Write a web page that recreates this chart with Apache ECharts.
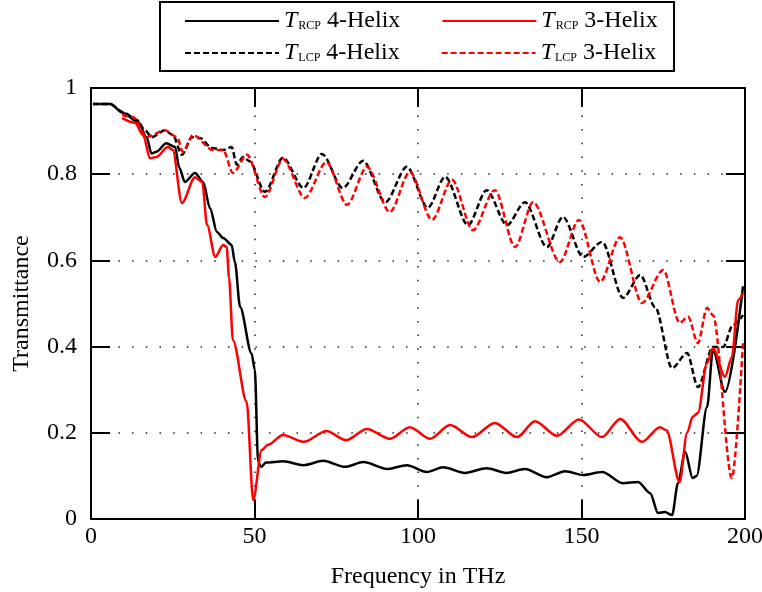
<!DOCTYPE html>
<html>
<head>
<meta charset="utf-8">
<script src="https://cdn.jsdelivr.net/npm/echarts@6/dist/echarts.min.js"></script>
<style>html,body{margin:0;padding:0;background:#fff}#chart{width:762px;height:592px}</style>
</head>
<body>
<div id="chart"></div>
<script>
// [frequency in THz, transmittance]
var rcp4 = [[0.6,0.963],[5.8,0.963],[9.8,0.942],[14.4,0.921],[17,0.886],[18.5,0.848],[20,0.852],[23,0.872],[25.7,0.863],[27,0.815],[28.7,0.782],[31.8,0.803],[34.3,0.782],[36.4,0.721],[38.5,0.666],[40.4,0.652],[43,0.636],[44,0.596],[45.6,0.492],[49.1,0.384],[50.1,0.346],[51.1,0.133],[52,0.121],[53.5,0.131],[58.7,0.134],[65,0.125],[71,0.135],[77.7,0.121],[83.3,0.132],[90.8,0.116],[96.6,0.125],[102.7,0.109],[107.7,0.12],[114.4,0.107],[121,0.118],[127,0.107],[132.7,0.116],[139.4,0.097],[145,0.111],[150.5,0.102],[156.3,0.109],[162.7,0.083],[167.3,0.086],[171,0.06],[173.4,0.014],[175.5,0.016],[177.7,0.009],[179.5,0.083],[181.7,0.156],[184,0.095],[185.2,0.1],[188.4,0.26],[190.2,0.392],[193.9,0.295],[199.4,0.54]];
var lcp4 = [[0.6,0.963],[5.8,0.963],[9.8,0.944],[14,0.926],[16.5,0.902],[18.6,0.886],[22.6,0.902],[25,0.891],[27.8,0.845],[30.9,0.886],[33.3,0.884],[37,0.861],[40.4,0.856],[43,0.863],[44.6,0.822],[46.5,0.84],[48.5,0.83],[53.2,0.759],[58.7,0.838],[65,0.768],[70.6,0.847],[77,0.768],[83.2,0.831],[90,0.735],[96.6,0.817],[103,0.722],[108.3,0.794],[115.3,0.682],[121,0.763],[127.2,0.682],[132.7,0.735],[139.4,0.631],[144.3,0.701],[150.5,0.608],[156.3,0.643],[162.7,0.513],[168,0.566],[172.5,0.492],[177.7,0.35],[182.3,0.385],[185.6,0.306],[190.2,0.399],[193.3,0.399],[196.3,0.45],[199.4,0.473]];
var rcp3 = [[9.5,0.93],[13.5,0.919],[16,0.89],[18,0.837],[20,0.84],[23.5,0.863],[25,0.856],[27.8,0.733],[31.8,0.793],[34,0.782],[35.5,0.682],[38,0.608],[40.4,0.636],[41.5,0.631],[42.2,0.56],[43.4,0.415],[47.6,0.272],[49.6,0.044],[52.2,0.16],[54.1,0.172],[58.7,0.195],[65,0.179],[72,0.204],[78,0.183],[84.4,0.209],[91.4,0.186],[97.5,0.213],[103.7,0.186],[109.8,0.218],[116.5,0.19],[123.5,0.223],[130.3,0.19],[135.8,0.227],[142.5,0.193],[149.2,0.231],[156.3,0.19],[161.8,0.232],[168.5,0.179],[174,0.213],[176,0.206],[180,0.086],[182.3,0.2],[184,0.237],[185.6,0.246],[188.4,0.362],[190.2,0.397],[193.9,0.33],[196,0.376],[197.9,0.508],[199.4,0.524]];
var lcp3 = [[9.5,0.937],[12.8,0.933],[17,0.886],[22.6,0.902],[26.3,0.886],[28.1,0.852],[31.2,0.891],[37.3,0.856],[40.4,0.856],[43.4,0.803],[47.7,0.845],[53.2,0.747],[58.7,0.835],[65.4,0.745],[72,0.828],[78.3,0.729],[84.4,0.817],[91.4,0.712],[97.5,0.805],[104.3,0.694],[110.4,0.787],[116.8,0.67],[123.5,0.763],[129.7,0.631],[135.2,0.735],[143.4,0.596],[149.2,0.694],[155.7,0.55],[161.8,0.654],[168.5,0.501],[175,0.578],[180,0.455],[182.6,0.469],[185.6,0.408],[188.4,0.49],[190.2,0.473],[196,0.095],[199.4,0.41]];

var legendText = {
  rcp4: ['RCP', '4-Helix'],
  rcp3: ['RCP', '3-Helix'],
  lcp4: ['LCP', '4-Helix'],
  lcp3: ['LCP', '3-Helix']
};

var font = 'Liberation Serif';
var chart = echarts.init(document.getElementById('chart'));

function mkLine(name, data, color, dashed) {
  return {
    name: name, type: 'line', data: data, showSymbol: false, symbol: 'none',
    smooth: 0.3, smoothMonotone: 'x',
    lineStyle: { color: color, width: 2.5, type: dashed ? [6, 3] : 'solid' },
    itemStyle: { color: color }
  };
}

function legendBox(names, top) {
  return {
    data: names, left: 179, top: top, itemWidth: 94, itemHeight: 14, itemGap: 41,
    itemStyle: { opacity: 0 },
    formatter: function (n) { return '{t|T}{s|' + legendText[n][0] + '} ' + legendText[n][1]; },
    textStyle: {
      fontFamily: font, fontSize: 24, color: '#000',
      rich: {
        t: { fontFamily: font, fontSize: 24, fontStyle: 'italic', color: '#000' },
        s: { fontFamily: font, fontSize: 12, color: '#000', padding: [10, 0, 0, 1] }
      }
    }
  };
}

var gridDots = { show: true, lineStyle: { color: '#222', width: 1.5, type: [1.5, 12.2] } };
var tick = { inside: true, length: 19, lineStyle: { color: '#000', width: 2 } };
var axLine = { onZero: false, lineStyle: { color: '#000', width: 2 } };
var lab = { fontFamily: font, fontSize: 24, color: '#000' };
var nameFont = { fontFamily: font, fontSize: 24, color: '#000' };

chart.setOption({
  animation: false,
  backgroundColor: '#fff',
  grid: { left: 91, right: 17, top: 88, bottom: 73, outerBoundsMode: 'none', containLabel: false },
  legend: [legendBox(['rcp4', 'rcp3'], 4), legendBox(['lcp4', 'lcp3'], 36)],
  graphic: [{ type: 'rect', shape: { x: 160, y: 2, width: 514, height: 69 },
    style: { fill: 'none', stroke: '#000', lineWidth: 2 }, silent: true }],
  xAxis: [
    { type: 'value', min: 0, max: 200, interval: 50, position: 'bottom',
      name: 'Frequency in THz', nameLocation: 'middle', nameGap: 46,
      nameTextStyle: nameFont,
      axisLine: axLine, axisTick: tick, axisLabel: Object.assign({ margin: 6 }, lab),
      splitLine: gridDots },
    { type: 'value', min: 0, max: 200, interval: 50, position: 'top',
      axisLine: axLine, axisTick: tick, axisLabel: { show: false }, splitLine: { show: false } }
  ],
  yAxis: [
    { type: 'value', min: 0, max: 1, interval: 0.2, position: 'left',
      name: 'Transmittance', nameLocation: 'middle', nameGap: 57,
      nameTextStyle: nameFont,
      axisLine: axLine, axisTick: tick,
      axisLabel: Object.assign({ margin: 14 }, lab),
      splitLine: gridDots },
    { type: 'value', min: 0, max: 1, interval: 0.2, position: 'right',
      axisLine: axLine, axisTick: tick, axisLabel: { show: false }, splitLine: { show: false } }
  ],
  series: [
    mkLine('rcp4', rcp4, '#000', false),
    mkLine('lcp4', lcp4, '#000', true),
    mkLine('rcp3', rcp3, '#f00', false),
    mkLine('lcp3', lcp3, '#f00', true)
  ]
});
</script>
</body>
</html>
